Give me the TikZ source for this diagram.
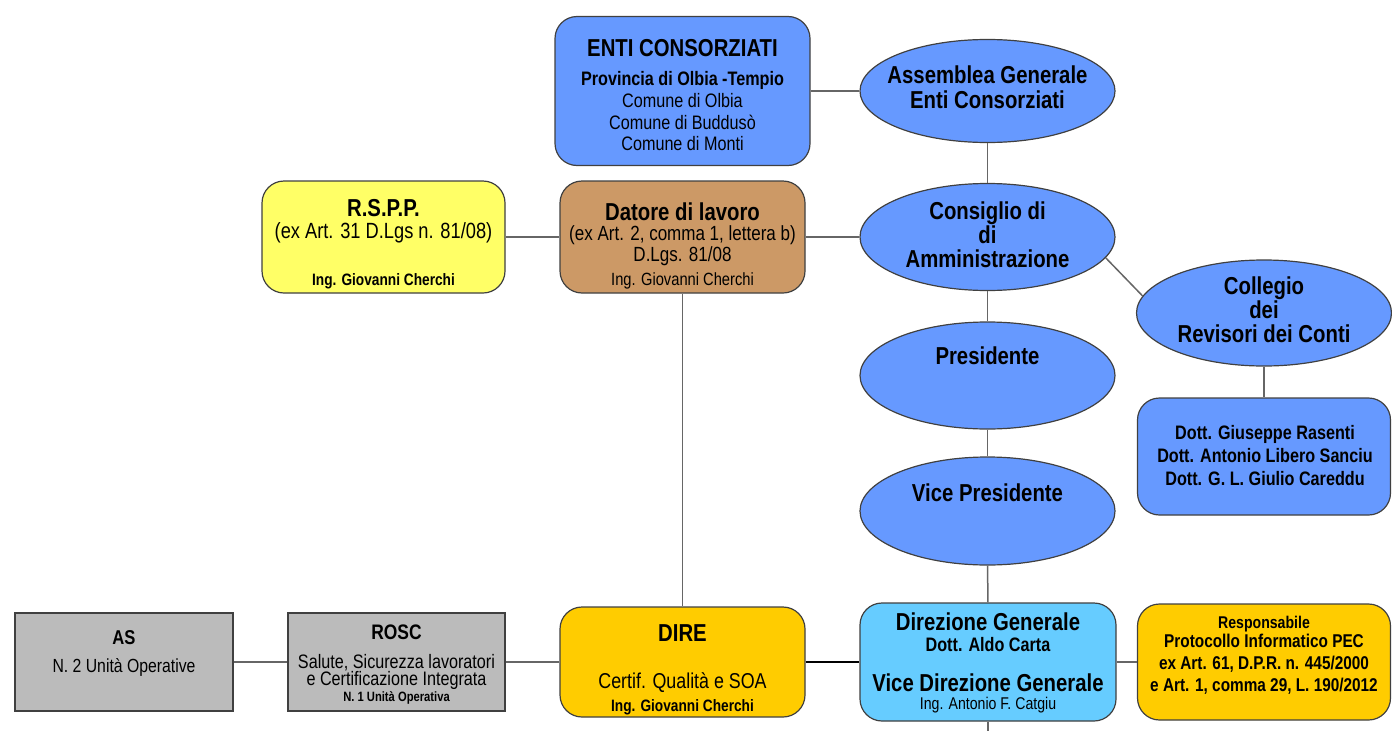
\documentclass[tikz,border=0pt]{standalone}
\usepackage{fontspec}
\setmainfont{Liberation Sans}[FakeStretch=0.83]
\usepackage{tikz}
\usetikzlibrary{shapes.geometric}
\definecolor{ovalblue}{RGB}{102,153,255}
\definecolor{rsppyellow}{RGB}{255,255,102}
\definecolor{datbrown}{RGB}{204,153,102}
\definecolor{boxgray}{RGB}{187,187,187}
\definecolor{diregold}{RGB}{255,204,0}
\definecolor{dirblue}{RGB}{102,204,255}
\setlength{\lineskiplimit}{-50pt}
\newcommand{\boldtxt}[2]{{\fontsize{#1}{#1}\selectfont\bfseries #2}}
\newcommand{\plaintxt}[2]{{\fontsize{#1}{#1}\selectfont\mdseries #2}}
\tikzset{my round box/.style={
  draw=black!75,
  line width=1.2pt,
  rounded corners=22pt,
  minimum width=245pt,
  minimum height=112pt,
  inner sep=0pt
  }
}
\tikzset{my square box/.style={
  draw=black!75,
  line width=1.2pt,
  fill=boxgray,
  minimum width=218pt,
  minimum height=98pt,
  inner sep=0pt
  }
}
\tikzset{my oval/.style={
  ellipse,
  draw=black!75,
  line width=1.2pt,
  fill=ovalblue,
  minimum width=255pt,
  inner sep=0pt
  }
}
\tikzset{my text/.style={align=center, inner sep=0pt}}
\tikzset{my link/.style={draw=black!60, line width=1.5pt}}

\begin{document}
\begin{tikzpicture}[x=1pt,y=-1pt]
    \useasboundingbox (0,0) rectangle (1392,731);

    \foreach \n/\y/\h in {Ass/91/103,Cons/237/107,Pres/375.5/107,Vice/511/108}
        \node[my oval,minimum height=\h pt] (\n) at (987.5,\y) {};
    \node[my oval,minimum height=106pt] (Coll) at (1264,313) {};

    \node[my round box,fill=ovalblue,minimum width=255pt,minimum height=149pt] (Enti) at (682.5,91) {};
    \node[my round box,fill=rsppyellow,minimum width=243pt] (Rspp) at (383.5,237) {};
    \node[my round box,fill=datbrown] (Dat) at (682.5,237) {};
    \node[my round box,fill=ovalblue,minimum width=253pt,minimum height=117pt] (Rev) at (1264,456.5) {};

    \node[my square box] (As) at (124,662) {};
    \node[my square box,minimum width=217pt] (Rosc) at (396.5,662) {};
    \node[my round box,fill=diregold,minimum height=110pt] (Dire) at (682.5,662) {};
    \node[my round box,fill=dirblue,minimum width=256pt,minimum height=118pt] (Dir) at (988,662) {};
    \node[my round box,fill=diregold,minimum width=253pt,minimum height=116pt] (Resp) at (1264,662) {};
    \coordinate (Bottom) at (988,731);

    \node[my text,font=\fontsize{19.5}{21.7}\selectfont] (EntiT) at (682.5,95) {\boldtxt{24.5}{ENTI CONSORZIATI}\\[7.8pt]\boldtxt{19.5}{Provincia di Olbia -Tempio}\\Comune di Olbia\\Comune di Buddusò\\Comune di Monti};
    \node[my text,font=\fontsize{24.5}{25}\selectfont\bfseries] (AssT) at (987.5,87.5) {Assemblea Generale\\Enti Consorziati};
    \node[my text,font=\fontsize{24.5}{24}\selectfont\bfseries] (ConsT) at (987.5,235) {Consiglio di\\di\\Amministrazione};
    \node[my text,font=\fontsize{24.5}{24}\selectfont\bfseries] (CollT) at (1264,309.5) {Collegio\\dei\\Revisori dei Conti};
    \node[my text,font=\fontsize{24.5}{24}\selectfont\bfseries] (PresT) at (987.5,356) {Presidente};
    \node[my text,font=\fontsize{24.5}{24}\selectfont\bfseries] (ViceT) at (987.5,493) {Vice Presidente};
    \node[my text,font=\fontsize{19.5}{23}\selectfont\bfseries] (RevT) at (1265,456) {Dott. Giuseppe Rasenti\\Dott. Antonio Libero Sanciu\\Dott. G. L. Giulio Careddu};

    \node[my text,font=\fontsize{22}{22}\selectfont] (RsppT) at (383.5,244) {\boldtxt{24.5}{R.S.P.P.}\\(ex Art. 31 D.Lgs n. 81/08)\\[24.5pt]\boldtxt{16.5}{Ing. Giovanni Cherchi}};
    \node[my text,font=\fontsize{20.5}{21}\selectfont] (DatT) at (682.5,246.4) {\boldtxt{24.5}{Datore di lavoro}\\[-1pt](ex Art. 2, comma 1, lettera b)\\D.Lgs. 81/08\\[3pt]\plaintxt{17.7}{Ing. Giovanni Cherchi}};

    \node[my text,font=\fontsize{19}{28}\selectfont] (AsT) at (124,653) {\boldtxt{20}{AS}\\N. 2 Unità Operative};
    \node[my text,font=\fontsize{19.5}{17}\selectfont] (RoscT) at (396.5,665) {\boldtxt{21}{ROSC}\\[12pt]Salute, Sicurezza lavoratori\\e Certificazione Integrata\\[-1pt]\boldtxt{13.5}{N. 1 Unità Operativa}};
    \node[my text,font=\fontsize{21.5}{23.5}\selectfont] (DireT) at (682.5,670) {\boldtxt{24.5}{DIRE}\\[23pt]Certif. Qualità e SOA\\\boldtxt{16.5}{Ing. Giovanni Cherchi}};
    \node[my text,font=\fontsize{19.5}{21.5}\selectfont\bfseries] (DirT) at (988,662.5) {\boldtxt{24.5}{Direzione Generale}\\Dott. Aldo Carta\\[18.5pt]\boldtxt{24.5}{Vice Direzione Generale}\\[-4pt]\plaintxt{17}{Ing. Antonio F. Catgiu}};
    \node[my text,font=\fontsize{18.5}{22}\selectfont\bfseries] (RespT) at (1264,655.3) {\boldtxt{17}{Responsabile}\\[-3.5pt]Protocollo Informatico PEC\\ex Art. 61, D.P.R. n. 445/2000\\e Art. 1, comma 29, L. 190/2012};

    \draw[my link] (Enti) -- (Ass);
    \draw[my link] (Ass) -- (Cons);
    \draw[my link] (Rspp) -- (Dat);
    \draw[my link] (Dat) -- (Cons);
    \draw[my link] (Cons.-10) -- (Coll.172);
    \draw[my link] (Cons) -- (Pres);
    \draw[my link] (Pres) -- (Vice);
    \draw[my link] (Vice) -- (Dir);
    \draw[my link] (Coll) -- (Rev);
    \draw[my link] (Dat) -- (Dire);
    \draw[my link] (As) -- (Rosc);
    \draw[my link] (Rosc) -- (Dire);
    \draw[my link,draw=black,line width=2pt] (Dire) -- (Dir);
    \draw[my link] (Dir) -- (Resp);
    \draw[my link] (Dir) -- (Bottom);

\end{tikzpicture}
\end{document}
